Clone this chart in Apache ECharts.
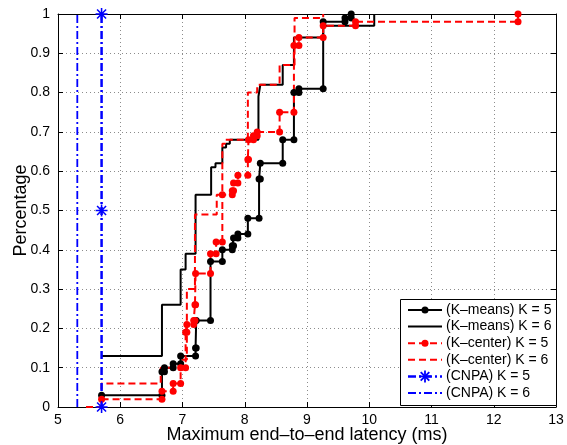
<!DOCTYPE html>
<html>
<head>
<meta charset="utf-8">
<script src="https://cdn.jsdelivr.net/npm/echarts@6/dist/echarts.min.js"></script>
<style>
  html, body { margin: 0; padding: 0; background: #fff; }
  #chart { width: 567px; height: 445px; }
</style>
</head>
<body>
<div id="chart"></div>
<script>
// Axis ranges
const xRange = [5, 13];
const yRange = [0, 1];

// Empirical CDFs: latency where each step happens (ms) and the cumulative level after the step
const kmeans5X = [5.70, 6.67, 6.71, 6.85, 6.97, 7.21, 7.22, 7.45, 7.64, 7.80, 7.82, 7.89, 8.05, 8.23, 8.25, 8.61, 8.79, 8.87, 9.26, 9.61, 9.71];
const kmeans5Y = [0.03, 0.09, 0.10, 0.11, 0.13, 0.15, 0.22, 0.37, 0.40, 0.41, 0.43, 0.44, 0.48, 0.58, 0.62, 0.68, 0.80, 0.81, 0.98, 0.99, 1.00];

const kmeans6X = [5.70, 6.67, 6.97, 7.05, 7.21, 7.46, 7.53, 7.64, 7.70, 7.76, 8.22, 8.25, 8.61, 8.79, 9.26, 10.08];
const kmeans6Y = [0.13, 0.26, 0.35, 0.39, 0.54, 0.61, 0.62, 0.66, 0.67, 0.68, 0.79, 0.82, 0.87, 0.94, 0.97, 1.00];

const kcenter5X = [5.70, 6.67, 6.85, 6.97, 7.05, 7.07, 7.18, 7.20, 7.21, 7.45, 7.54, 7.64, 7.80, 7.82, 7.89, 8.05, 8.06, 8.14, 8.20, 8.56, 8.79, 8.87, 9.26, 9.78, 12.39];
const kcenter5Y = [0.02, 0.04, 0.06, 0.10, 0.19, 0.21, 0.22, 0.26, 0.34, 0.39, 0.42, 0.54, 0.55, 0.57, 0.59, 0.63, 0.68, 0.69, 0.70, 0.75, 0.92, 0.94, 0.97, 0.98, 1.00];

const kcenter6X = [5.45, 5.70, 6.65, 6.98, 7.07, 7.20, 7.55, 7.64, 7.68, 8.05, 8.20, 8.56, 8.80, 9.26];
const kcenter6Y = [0.00, 0.06, 0.10, 0.12, 0.30, 0.49, 0.54, 0.67, 0.68, 0.80, 0.82, 0.87, 0.99, 1.00];

// CNPA places every controller at a single latency value
const cnpa5X = [5.70, 5.70, 5.70];
const cnpa5Y = [0.00, 0.50, 1.00];
const cnpa6X = [5.31, 5.31];
const cnpa6Y = [0.00, 1.00];

const seriesNames = ['(K\u2013means) K = 5', '(K\u2013means) K = 6', '(K\u2013center) K = 5', '(K\u2013center) K = 6', '(CNPA) K = 5', '(CNPA) K = 6'];

// Stair vertices: each step adds a corner at the old level and one at the new level
function stairs(xs, ys) {
  const pts = [[xs[0], ys[0]]];
  for (let i = 1; i < xs.length; i++) {
    pts.push([xs[i], ys[i - 1]]);
    pts.push([xs[i], ys[i]]);
  }
  return pts;
}
function pairs(xs, ys) {
  return xs.map((x, i) => [x, ys[i]]);
}

// Eight-armed asterisk marker
const asterisk = 'path://M8.7,0L11.3,0L11.3,20L8.7,20Z M0,8.7L20,8.7L20,11.3L0,11.3Z ' +
  'M1.58,3.42L3.42,1.58L18.42,16.58L16.58,18.42Z M16.58,1.58L18.42,3.42L3.42,18.42L1.58,16.58Z';

const FONT = 'Liberation Sans, Arial, Helvetica, sans-serif';
const gridLine = { show: true, lineStyle: { color: '#8c8c8c', type: [1, 3], width: 1 } };

// Per-series look, shared by the plot and the legend
const looks = [
  { color: '#000000', width: 2, dash: null, marker: 'dot' },
  { color: '#000000', width: 2, dash: null, marker: null },
  { color: '#ff0000', width: 2, dash: [7, 4], marker: 'dot' },
  { color: '#ff0000', width: 2, dash: [7, 4], marker: null },
  { color: '#0000ff', width: 2.5, dash: [8, 3, 2, 3], marker: 'star' },
  { color: '#0000ff', width: 1.8, dash: [8, 3, 2, 3], marker: null }
];
const seriesData = [
  stairs(kmeans5X, kmeans5Y),
  stairs(kmeans6X, kmeans6Y),
  stairs(kcenter5X, kcenter5Y),
  stairs(kcenter6X, kcenter6Y),
  pairs(cnpa5X, cnpa5Y),
  pairs(cnpa6X, cnpa6Y)
];

function axisCommon(range, step, pos, showLabels, fmt) {
  return {
    type: 'value',
    position: pos,
    min: range[0],
    max: range[1],
    interval: step,
    axisLine: { show: true, onZero: false, lineStyle: { color: '#000', width: 1 } },
    axisTick: { show: true, inside: true, length: 5, lineStyle: { color: '#000' } },
    axisLabel: { show: showLabels, color: '#000', fontSize: 14, fontFamily: FONT, formatter: fmt },
    splitLine: showLabels ? gridLine : { show: false }
  };
}

// Boxed legend drawn with graphic elements so each entry shows exactly its line and marker
function legendGraphics() {
  const box = { left: 400, top: 299, width: 156, height: 106 };
  const els = [{
    type: 'rect', z: 100,
    shape: { x: box.left + 0.5, y: box.top + 0.5, width: box.width, height: box.height },
    style: { fill: '#fff', stroke: '#000', lineWidth: 1 }
  }];
  const rowY0 = 310, rowStep = 16.6, lineX0 = 408, lineX1 = 442, textX = 446;
  looks.forEach((lk, i) => {
    const y = rowY0 + i * rowStep;
    els.push({
      type: 'line', z: 101,
      shape: { x1: lineX0, y1: y, x2: lineX1, y2: y },
      style: { stroke: lk.color, lineWidth: lk.width, lineDash: lk.dash || null }
    });
    const cx = (lineX0 + lineX1) / 2;
    if (lk.marker === 'dot') {
      els.push({ type: 'circle', z: 102, shape: { cx: cx, cy: y, r: 3.5 }, style: { fill: lk.color } });
    } else if (lk.marker === 'star') {
      const r = 6, d = 4.3;
      [[0, -r, 0, r], [-r, 0, r, 0], [-d, -d, d, d], [-d, d, d, -d]].forEach(a => {
        els.push({
          type: 'line', z: 102,
          shape: { x1: cx + a[0], y1: y + a[1], x2: cx + a[2], y2: y + a[3] },
          style: { stroke: lk.color, lineWidth: 1.8 }
        });
      });
    }
    els.push({
      type: 'text', z: 102, x: textX, y: y,
      style: { text: seriesNames[i], fill: '#000', font: '14px ' + FONT, verticalAlign: 'middle' }
    });
  });
  return els;
}

const chart = echarts.init(document.getElementById('chart'), null, { renderer: 'canvas' });

chart.setOption({
  animation: false,
  backgroundColor: '#fff',
  grid: { left: 58, top: 14, width: 498, height: 393, containLabel: false, outerBoundsMode: 'none' },
  xAxis: [
    Object.assign(axisCommon(xRange, 1, 'bottom', true, v => String(v)), {
      name: 'Maximum end\u2013to\u2013end latency (ms)',
      nameLocation: 'middle',
      nameGap: 19,
      nameMoveOverlap: false,
      nameTextStyle: { color: '#000', fontSize: 18, fontFamily: FONT },
      axisLabel: { show: true, color: '#000', fontSize: 14, fontFamily: FONT, margin: 6 }
    }),
    axisCommon(xRange, 1, 'top', false)
  ],
  yAxis: [
    Object.assign(axisCommon(yRange, 0.1, 'left', true, v => (v === 0 || v === 1) ? String(v) : v.toFixed(1)), {
      name: 'Percentage',
      nameLocation: 'middle',
      nameGap: 28,
      nameMoveOverlap: false,
      nameTextStyle: { color: '#000', fontSize: 18, fontFamily: FONT }
    }),
    axisCommon(yRange, 0.1, 'right', false)
  ],
  graphic: legendGraphics(),
  series: seriesData.map((d, i) => {
    const lk = looks[i];
    return {
      name: seriesNames[i],
      type: 'line',
      data: d,
      clip: false,
      symbol: lk.marker === 'dot' ? 'circle' : (lk.marker === 'star' ? asterisk : 'none'),
      symbolSize: lk.marker === 'star' ? 12 : 7,
      lineStyle: { color: lk.color, width: lk.width, type: lk.dash || 'solid' },
      itemStyle: { color: lk.color }
    };
  })
});
</script>
</body>
</html>
